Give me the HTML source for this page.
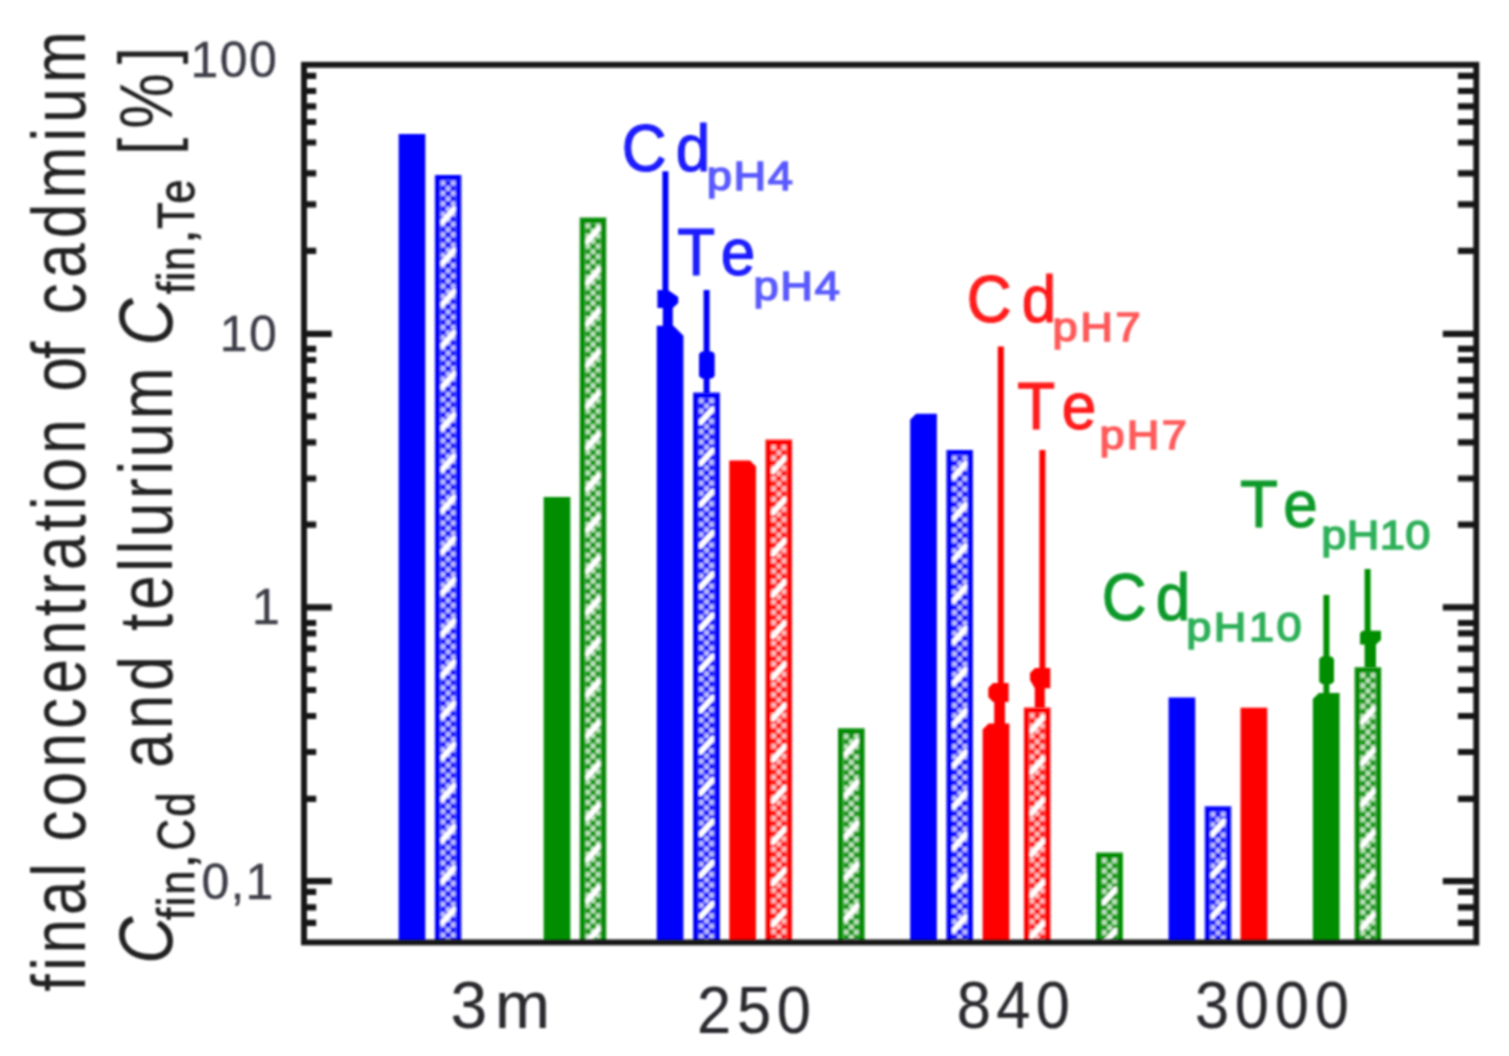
<!DOCTYPE html>
<html lang="en"><head><meta charset="utf-8"><title>Final concentration of cadmium and tellurium</title>
<style>html,body{margin:0;padding:0;background:#fff;}body{width:1509px;height:1056px;overflow:hidden;}svg{display:block;}text{font-family:"Liberation Sans",sans-serif;white-space:pre;font-kerning:none;font-variant-ligatures:none;}</style></head><body>
<svg width="1509" height="1056" viewBox="0 0 1509 1056">
<defs>
<pattern id="hb" patternUnits="userSpaceOnUse" width="10.300" height="10.300"><rect width="10.300" height="10.300" fill="#0000ff" fill-opacity="0.93"/><rect x="0.075" y="0.075" width="5.000" height="5.000" rx="0.8" fill="#fff" fill-opacity="0.72"/><rect x="5.225" y="5.225" width="5.000" height="5.000" rx="0.8" fill="#fff" fill-opacity="0.72"/></pattern>
<pattern id="hr" patternUnits="userSpaceOnUse" width="10.300" height="10.300"><rect width="10.300" height="10.300" fill="#ff0000" fill-opacity="0.93"/><rect x="0.075" y="0.075" width="5.000" height="5.000" rx="0.8" fill="#fff" fill-opacity="0.72"/><rect x="5.225" y="5.225" width="5.000" height="5.000" rx="0.8" fill="#fff" fill-opacity="0.72"/></pattern>
<pattern id="hg" patternUnits="userSpaceOnUse" width="10.300" height="10.300"><rect width="10.300" height="10.300" fill="#008e00" fill-opacity="0.93"/><rect x="0.075" y="0.075" width="5.000" height="5.000" rx="0.8" fill="#fff" fill-opacity="0.72"/><rect x="5.225" y="5.225" width="5.000" height="5.000" rx="0.8" fill="#fff" fill-opacity="0.72"/></pattern>
<filter id="soft" x="-2%" y="-2%" width="104%" height="104%"><feGaussianBlur stdDeviation="1.3"/></filter>
<filter id="soft2" x="-5%" y="-5%" width="110%" height="110%"><feGaussianBlur stdDeviation="0.9"/></filter>
<filter id="soft3" x="-20%" y="-5%" width="140%" height="110%"><feGaussianBlur stdDeviation="1.05"/></filter>
</defs>
<rect width="1509" height="1056" fill="#fff"/>
<g id="hatched-bars" filter="url(#soft3)">
<g transform="translate(440.38,180.62)">
<rect x="-5.62" y="-5.62" width="26.70" height="767.40" fill="#fff"/>
<rect x="0" y="0" width="15.45" height="761.77" fill="url(#hb)"/>
<path d="M1.8 41.5L13.7 28.3M1.8 82.7L13.7 69.5M1.8 123.9L13.7 110.7M1.8 165.1L13.7 151.9M1.8 206.3L13.7 193.1M1.8 247.5L13.7 234.3M1.8 288.7L13.7 275.5M1.8 329.9L13.7 316.7M1.8 371.1L13.7 357.9M1.8 412.3L13.7 399.1M1.8 453.5L13.7 440.3M1.8 494.7L13.7 481.5M1.8 535.9L13.7 522.7M1.8 577.1L13.7 563.9M1.8 618.3L13.7 605.1M1.8 659.5L13.7 646.3M1.8 700.7L13.7 687.5M1.8 741.9L13.7 728.7" stroke="#fff" stroke-width="5.4" stroke-linecap="round" fill="none"/>
<path d="M-2.81 761.77V-2.81H18.26V761.77" fill="none" stroke="#0000ff" stroke-width="5.62" stroke-linejoin="miter"/>
</g>
<g transform="translate(585.27,223.22)">
<rect x="-5.62" y="-5.62" width="26.70" height="724.80" fill="#fff"/>
<rect x="0" y="0" width="15.45" height="719.17" fill="url(#hg)"/>
<path d="M1.8 18.4L13.7 5.2M1.8 59.6L13.7 46.4M1.8 100.8L13.7 87.6M1.8 142.0L13.7 128.8M1.8 183.2L13.7 170.0M1.8 224.4L13.7 211.2M1.8 265.6L13.7 252.4M1.8 306.8L13.7 293.6M1.8 348.0L13.7 334.8M1.8 389.2L13.7 376.0M1.8 430.4L13.7 417.2M1.8 471.6L13.7 458.4M1.8 512.8L13.7 499.6M1.8 554.0L13.7 540.8M1.8 595.2L13.7 582.0M1.8 636.4L13.7 623.2M1.8 677.6L13.7 664.4M1.8 718.8L13.7 705.6" stroke="#fff" stroke-width="5.4" stroke-linecap="round" fill="none"/>
<path d="M-2.81 719.17V-2.81H18.26V719.17" fill="none" stroke="#008e00" stroke-width="5.62" stroke-linejoin="miter"/>
</g>
<g transform="translate(698.77,398.23)">
<rect x="-5.62" y="-5.62" width="26.70" height="549.80" fill="#fff"/>
<rect x="0" y="0" width="15.45" height="544.17" fill="url(#hb)"/>
<path d="M1.8 24.1L13.7 10.9M1.8 65.3L13.7 52.1M1.8 106.5L13.7 93.3M1.8 147.7L13.7 134.5M1.8 188.9L13.7 175.7M1.8 230.1L13.7 216.9M1.8 271.3L13.7 258.1M1.8 312.5L13.7 299.3M1.8 353.7L13.7 340.5M1.8 394.9L13.7 381.7M1.8 436.1L13.7 422.9M1.8 477.3L13.7 464.1M1.8 518.5L13.7 505.3" stroke="#fff" stroke-width="5.4" stroke-linecap="round" fill="none"/>
<path d="M-2.81 544.17V-2.81H18.26V544.17" fill="none" stroke="#0000ff" stroke-width="5.62" stroke-linejoin="miter"/>
</g>
<g transform="translate(771.07,445.02)">
<rect x="-5.62" y="-5.62" width="26.70" height="503.00" fill="#fff"/>
<rect x="0" y="0" width="15.45" height="497.38" fill="url(#hr)"/>
<path d="M1.8 26.4L13.7 13.2M1.8 67.6L13.7 54.4M1.8 108.8L13.7 95.6M1.8 150.0L13.7 136.8M1.8 191.2L13.7 178.0M1.8 232.4L13.7 219.2M1.8 273.6L13.7 260.4M1.8 314.8L13.7 301.6M1.8 356.0L13.7 342.8M1.8 397.2L13.7 384.0M1.8 438.4L13.7 425.2M1.8 479.6L13.7 466.4" stroke="#fff" stroke-width="5.4" stroke-linecap="round" fill="none"/>
<path d="M-2.81 497.38V-2.81H18.26V497.38" fill="none" stroke="#ff0000" stroke-width="5.62" stroke-linejoin="miter"/>
</g>
<g transform="translate(843.57,733.92)">
<rect x="-5.62" y="-5.62" width="26.70" height="214.10" fill="#fff"/>
<rect x="0" y="0" width="15.45" height="208.48" fill="url(#hg)"/>
<path d="M1.8 20.3L13.7 7.1M1.8 61.5L13.7 48.3M1.8 102.7L13.7 89.5M1.8 143.9L13.7 130.7M1.8 185.1L13.7 171.9" stroke="#fff" stroke-width="5.4" stroke-linecap="round" fill="none"/>
<path d="M-2.81 208.48V-2.81H18.26V208.48" fill="none" stroke="#008e00" stroke-width="5.62" stroke-linejoin="miter"/>
</g>
<g transform="translate(951.98,455.62)">
<rect x="-5.62" y="-5.62" width="26.70" height="492.40" fill="#fff"/>
<rect x="0" y="0" width="15.45" height="486.77" fill="url(#hb)"/>
<path d="M1.8 21.2L13.7 8.0M1.8 62.4L13.7 49.2M1.8 103.6L13.7 90.4M1.8 144.8L13.7 131.6M1.8 186.0L13.7 172.8M1.8 227.2L13.7 214.0M1.8 268.4L13.7 255.2M1.8 309.6L13.7 296.4M1.8 350.8L13.7 337.6M1.8 392.0L13.7 378.8M1.8 433.2L13.7 420.0M1.8 474.4L13.7 461.2" stroke="#fff" stroke-width="5.4" stroke-linecap="round" fill="none"/>
<path d="M-2.81 486.77V-2.81H18.26V486.77" fill="none" stroke="#0000ff" stroke-width="5.62" stroke-linejoin="miter"/>
</g>
<g transform="translate(1029.47,713.12)">
<rect x="-5.62" y="-5.62" width="26.70" height="234.90" fill="#fff"/>
<rect x="0" y="0" width="15.45" height="229.27" fill="url(#hr)"/>
<path d="M1.8 17.7L13.7 4.5M1.8 58.9L13.7 45.7M1.8 100.1L13.7 86.9M1.8 141.3L13.7 128.1M1.8 182.5L13.7 169.3M1.8 223.7L13.7 210.5" stroke="#fff" stroke-width="5.4" stroke-linecap="round" fill="none"/>
<path d="M-2.81 229.27V-2.81H18.26V229.27" fill="none" stroke="#ff0000" stroke-width="5.62" stroke-linejoin="miter"/>
</g>
<g transform="translate(1101.78,858.02)">
<rect x="-5.62" y="-5.62" width="26.70" height="90.00" fill="#fff"/>
<rect x="0" y="0" width="15.45" height="84.38" fill="url(#hg)"/>
<path d="M1.8 44.6L13.7 31.4M1.8 85.8L13.7 72.6" stroke="#fff" stroke-width="5.4" stroke-linecap="round" fill="none"/>
<path d="M-2.81 84.38V-2.81H18.26V84.38" fill="none" stroke="#008e00" stroke-width="5.62" stroke-linejoin="miter"/>
</g>
<g transform="translate(1210.28,811.83)">
<rect x="-5.62" y="-5.62" width="26.70" height="136.20" fill="#fff"/>
<rect x="0" y="0" width="15.45" height="130.57" fill="url(#hb)"/>
<path d="M1.8 22.5L13.7 9.3M1.8 63.7L13.7 50.5M1.8 104.9L13.7 91.7" stroke="#fff" stroke-width="5.4" stroke-linecap="round" fill="none"/>
<path d="M-2.81 130.57V-2.81H18.26V130.57" fill="none" stroke="#0000ff" stroke-width="5.62" stroke-linejoin="miter"/>
</g>
<g transform="translate(1360.18,672.83)">
<rect x="-5.62" y="-5.62" width="26.70" height="275.20" fill="#fff"/>
<rect x="0" y="0" width="15.45" height="269.57" fill="url(#hg)"/>
<path d="M1.8 49.2L13.7 36.0M1.8 90.4L13.7 77.2M1.8 131.6L13.7 118.4M1.8 172.8L13.7 159.6M1.8 214.0L13.7 200.8M1.8 255.2L13.7 242.0" stroke="#fff" stroke-width="5.4" stroke-linecap="round" fill="none"/>
<path d="M-2.81 269.57V-2.81H18.26V269.57" fill="none" stroke="#008e00" stroke-width="5.62" stroke-linejoin="miter"/>
</g>
</g>
<g filter="url(#soft)">
<g id="bars">
<rect x="398.65" y="134.00" width="26.70" height="808.40" fill="#0000ff"/>
<rect x="543.65" y="497.00" width="26.70" height="445.40" fill="#008e00"/>
<path d="M656.75 325.70H673.45L683.45 335.70V942.4H656.75Z" fill="#0000ff"/>
<path d="M729.25 460.50H749.95L755.95 466.50V942.4H729.25Z" fill="#ff0000"/>
<path d="M910.15 419.80L916.15 413.80H936.85V942.4H910.15Z" fill="#0000ff"/>
<path d="M982.65 729.40L988.65 723.40H1009.35V942.4H982.65Z" fill="#ff0000"/>
<rect x="1168.55" y="697.50" width="26.70" height="244.90" fill="#0000ff"/>
<rect x="1240.55" y="707.70" width="26.70" height="234.70" fill="#ff0000"/>
<path d="M1312.85 699.00L1318.85 693.00H1339.55V942.4H1312.85Z" fill="#008e00"/>
</g>
<g id="errorbars">
<rect x="662.40" y="171.30" width="6.00" height="128.70" fill="#0000ff"/>
<polygon points="657.4,290.0 668.0,290.0 678.2,297.0 678.2,303.0 672.8,308.0 672.8,326.0 662.8,326.0 662.8,308.0 657.4,308.0" fill="#0000ff"/>
<rect x="703.60" y="290.00" width="6.00" height="104.00" fill="#0000ff"/>
<polygon points="699.0,354.0 701.5,351.5 712.2,351.5 714.7,354.0 714.7,376.0 712.2,378.5 701.5,378.5 699.0,376.0" fill="#0000ff"/>
<rect x="997.80" y="346.50" width="6.00" height="343.50" fill="#ff0000"/>
<polygon points="988.3,688.0 993.0,683.0 1008.6,683.0 1008.6,702.0 1005.0,702.0 1005.0,724.0 994.2,724.0 994.2,702.0 993.0,702.0 988.3,697.0" fill="#ff0000"/>
<rect x="1039.40" y="450.00" width="6.00" height="230.00" fill="#ff0000"/>
<polygon points="1030.0,673.0 1035.0,668.0 1050.3,668.0 1050.3,688.3 1044.8,688.3 1044.8,708.0 1034.8,708.0 1034.8,688.3 1030.0,680.0" fill="#ff0000"/>
<rect x="1323.40" y="595.00" width="6.00" height="99.00" fill="#008e00"/>
<polygon points="1319.2,659.0 1321.7,656.5 1331.5,656.5 1334.0,659.0 1334.0,681.5 1331.5,684.0 1321.7,684.0 1319.2,681.5" fill="#008e00"/>
<rect x="1364.60" y="569.00" width="6.00" height="71.00" fill="#008e00"/>
<polygon points="1360.0,633.0 1362.5,630.8 1381.0,630.8 1381.0,640.0 1376.0,644.5 1376.0,668.0 1364.6,668.0 1364.6,644.5 1360.0,644.5" fill="#008e00"/>
</g>
<g id="axes" stroke="#161616" fill="none">
<rect x="304.0" y="64.8" width="1172.3" height="877.6" stroke-width="5.9"/>
<path d="M304.0 75.8H316.2M1476.3 75.8H1457.8999999999999M304.0 91.0H316.2M1476.3 91.0H1457.8999999999999M304.0 106.4H316.2M1476.3 106.4H1457.8999999999999M304.0 122.0H316.2M1476.3 122.0H1457.8999999999999M304.0 142.5H316.2M1476.3 142.5H1457.8999999999999M304.0 173.4H316.2M1476.3 173.4H1457.8999999999999M304.0 204.3H316.2M1476.3 204.3H1457.8999999999999M304.0 250.8H316.2M1476.3 250.8H1457.8999999999999M304.0 348.9H316.2M1476.3 348.9H1457.8999999999999M304.0 360.0H316.2M1476.3 360.0H1457.8999999999999M304.0 380.2H316.2M1476.3 380.2H1457.8999999999999M304.0 395.6H316.2M1476.3 395.6H1457.8999999999999M304.0 416.4H316.2M1476.3 416.4H1457.8999999999999M304.0 442.4H316.2M1476.3 442.4H1457.8999999999999M304.0 478.5H316.2M1476.3 478.5H1457.8999999999999M304.0 524.7H316.2M1476.3 524.7H1457.8999999999999M304.0 623.0H316.2M1476.3 623.0H1457.8999999999999M304.0 633.4H316.2M1476.3 633.4H1457.8999999999999M304.0 648.6H316.2M1476.3 648.6H1457.8999999999999M304.0 669.5H316.2M1476.3 669.5H1457.8999999999999M304.0 690.0H316.2M1476.3 690.0H1457.8999999999999M304.0 716.0H316.2M1476.3 716.0H1457.8999999999999M304.0 752.0H316.2M1476.3 752.0H1457.8999999999999M304.0 798.8H316.2M1476.3 798.8H1457.8999999999999M304.0 891.8H316.2M1476.3 891.8H1457.8999999999999M304.0 907.3H316.2M1476.3 907.3H1457.8999999999999M304.0 922.8H316.2M1476.3 922.8H1457.8999999999999M304.0 333.8H331.8M1476.3 333.8H1442.8M304.0 607.3H331.8M1476.3 607.3H1442.8M304.0 881.1H331.8M1476.3 881.1H1442.8" stroke-width="6.2"/>
</g>
</g>
<g id="labels" filter="url(#soft2)">
<text transform="translate(190.59,77.30) scale(1.0,1)" font-size="50" fill="#3e3e48" letter-spacing="1.37" stroke="#3e3e48" stroke-width="0.4">100</text>
<text transform="translate(219.79,351.00) scale(1.0,1)" font-size="50" fill="#3e3e48" letter-spacing="1.35" stroke="#3e3e48" stroke-width="0.4">10</text>
<text transform="translate(251.99,624.30) scale(1.0,1)" font-size="50" fill="#3e3e48" letter-spacing="0.00" stroke="#3e3e48" stroke-width="0.4">1</text>
<text transform="translate(201.45,899.30) scale(1.0,1)" font-size="50" fill="#3e3e48" letter-spacing="1.14" stroke="#3e3e48" stroke-width="0.4">0,1</text>
<text transform="translate(450.49,1028.20) scale(1.0,1)" font-size="66" fill="#2a2a2e" letter-spacing="7.78" stroke="#2a2a2e" stroke-width="0.2">3m</text>
<text transform="translate(696.91,1033.20) scale(0.93,1)" font-size="66" fill="#2a2a2e" letter-spacing="6.28" stroke="#2a2a2e" stroke-width="0.2">250</text>
<text transform="translate(956.83,1028.20) scale(0.93,1)" font-size="66" fill="#2a2a2e" letter-spacing="5.78" stroke="#2a2a2e" stroke-width="0.2">840</text>
<text transform="translate(1194.96,1028.20) scale(0.93,1)" font-size="66" fill="#2a2a2e" letter-spacing="6.20" stroke="#2a2a2e" stroke-width="0.2">3000</text>
<text transform="translate(84.60,991.78) rotate(-90) scale(0.82,1)" font-size="76" fill="#242424" letter-spacing="4.37" >final</text>
<text transform="translate(84.60,841.45) rotate(-90) scale(0.82,1)" font-size="76" fill="#242424" letter-spacing="4.91" >concentration</text>
<text transform="translate(84.60,391.62) rotate(-90) scale(0.82,1)" font-size="76" fill="#242424" letter-spacing="-2.38" >of</text>
<text transform="translate(84.60,314.25) rotate(-90) scale(0.82,1)" font-size="76" fill="#242424" letter-spacing="6.17" >cadmium</text>
<text transform="translate(171.80,963.81) rotate(-90) scale(0.86,1)" font-size="76" fill="#242424" letter-spacing="0.00" font-style="italic" >C</text>
<text transform="translate(193.60,919.92) rotate(-90) scale(0.84,1)" font-size="52" fill="#242424" letter-spacing="1.92" stroke="#242424" stroke-width="0.8">fin</text>
<text transform="translate(193.60,868.47) rotate(-90) scale(1.0,1)" font-size="52" fill="#242424" letter-spacing="0.00" stroke="#242424" stroke-width="0.8">,</text>
<text transform="translate(193.60,850.52) rotate(-90) scale(0.84,1)" font-size="52" fill="#242424" letter-spacing="2.73" stroke="#242424" stroke-width="0.8">Cd</text>
<text transform="translate(171.80,768.05) rotate(-90) scale(0.82,1)" font-size="76" fill="#242424" letter-spacing="4.93" >and</text>
<text transform="translate(171.80,630.94) rotate(-90) scale(0.82,1)" font-size="76" fill="#242424" letter-spacing="4.29" >tellurium</text>
<text transform="translate(171.80,345.41) rotate(-90) scale(0.86,1)" font-size="76" fill="#242424" letter-spacing="0.00" font-style="italic" >C</text>
<text transform="translate(193.60,294.02) rotate(-90) scale(0.84,1)" font-size="52" fill="#242424" letter-spacing="0.67" stroke="#242424" stroke-width="0.8">fin</text>
<text transform="translate(193.60,243.87) rotate(-90) scale(1.0,1)" font-size="52" fill="#242424" letter-spacing="0.00" stroke="#242424" stroke-width="0.8">,</text>
<text transform="translate(193.60,228.88) rotate(-90) scale(0.84,1)" font-size="52" fill="#242424" letter-spacing="-1.73" stroke="#242424" stroke-width="0.8">Te</text>
<text transform="translate(171.80,155.04) rotate(-90) scale(0.82,1)" font-size="76" fill="#242424" letter-spacing="11.00" >[%]</text>
<text transform="translate(621.65,171.30) scale(0.94,1)" font-size="66" fill="#1a1aff" letter-spacing="9.83" stroke="#1a1aff" stroke-width="1.1">Cd</text>
<text transform="translate(706.69,190.00) scale(1.13,1)" font-size="40" fill="#5a5aff" letter-spacing="1.42" stroke="#5a5aff" stroke-width="1.5">pH4</text>
<text transform="translate(677.31,274.60) scale(0.94,1)" font-size="66" fill="#1a1aff" letter-spacing="5.80" stroke="#1a1aff" stroke-width="1.1">Te</text>
<text transform="translate(753.39,299.60) scale(1.13,1)" font-size="40" fill="#5a5aff" letter-spacing="1.60" stroke="#5a5aff" stroke-width="1.5">pH4</text>
<text transform="translate(966.85,322.00) scale(0.94,1)" font-size="66" fill="#ff1a1a" letter-spacing="10.79" stroke="#ff1a1a" stroke-width="1.1">Cd</text>
<text transform="translate(1052.39,340.80) scale(1.13,1)" font-size="40" fill="#ff5a5a" letter-spacing="2.38" stroke="#ff5a5a" stroke-width="1.5">pH7</text>
<text transform="translate(1017.21,429.30) scale(0.94,1)" font-size="66" fill="#ff1a1a" letter-spacing="7.07" stroke="#ff1a1a" stroke-width="1.1">Te</text>
<text transform="translate(1099.49,449.40) scale(1.13,1)" font-size="40" fill="#ff5a5a" letter-spacing="1.98" stroke="#ff5a5a" stroke-width="1.5">pH7</text>
<text transform="translate(1101.65,620.20) scale(0.94,1)" font-size="66" fill="#0a9a2a" letter-spacing="9.83" stroke="#0a9a2a" stroke-width="1.1">Cd</text>
<text transform="translate(1186.29,640.60) scale(1.13,1)" font-size="40" fill="#2fb05a" letter-spacing="2.16" stroke="#2fb05a" stroke-width="1.5">pH10</text>
<text transform="translate(1240.01,527.00) scale(0.94,1)" font-size="66" fill="#0a9a2a" letter-spacing="5.69" stroke="#0a9a2a" stroke-width="1.1">Te</text>
<text transform="translate(1321.19,548.50) scale(1.13,1)" font-size="40" fill="#2fb05a" letter-spacing="0.36" stroke="#2fb05a" stroke-width="1.5">pH10</text>
</g>
</svg></body></html>
